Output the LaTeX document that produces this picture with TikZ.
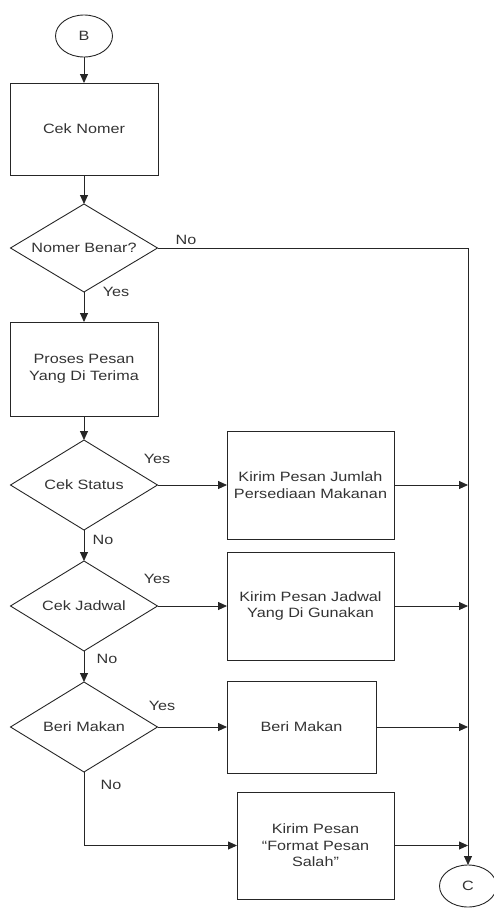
\documentclass[tikz,border=0pt]{standalone}
\usepackage{fontspec}
\setmainfont{Liberation Sans}[FakeStretch=1.2]
\usetikzlibrary{shapes.geometric,arrows.meta}
\begin{document}
\begin{tikzpicture}[x=1pt,y=-1pt,
  every node/.style={font=\fontsize{13.5pt}{16.5pt}\selectfont, text=black!80},
  shp/.style={draw=black!85, line width=0.9pt, inner sep=0pt, outer sep=0pt, align=center},
  box/.style={shp, rectangle},
  dec/.style={shp, diamond, aspect=1.7, minimum width=147pt, minimum height=90pt},
  conn/.style={shp, ellipse, minimum width=57pt, minimum height=42pt},
  line/.style={draw=black!85, line width=0.9pt},
  arr/.style={line, -{Triangle[length=9pt,width=8pt]}},
  lbl/.style={inner sep=0pt}
]
\useasboundingbox (0,0) rectangle (493,908);

% left column
\node[conn] (B) at (84,36) {B};
\node[box, minimum width=148pt, minimum height=92pt] (cn) at (84,129) {Cek Nomer};
\node[dec, minimum height=88pt] (nb) at (84,248) {Nomer Benar?};
\node[box, minimum width=148pt, minimum height=94pt] (pp) at (84,369) {Proses Pesan\\Yang Di Terima};
\node[dec] (cs) at (84,485) {Cek Status};
\node[dec] (cj) at (84,606) {Cek Jadwal};
\node[dec] (bd) at (84,727) {Beri Makan};

% right column
\node[box, minimum width=167pt, minimum height=108pt] (kj) at (310.5,485) {Kirim Pesan Jumlah\\Persediaan Makanan};
\node[box, minimum width=167pt, minimum height=108pt] (kd) at (310.5,606) {Kirim Pesan Jadwal\\Yang Di Gunakan};
\node[box, minimum width=149pt, minimum height=92pt] (bm) at (301.5,727) {Beri Makan};
\node[box, minimum width=157pt, minimum height=107pt] (fp) at (315.5,845.5) {Kirim Pesan\\“Format Pesan\\Salah”};
\node[conn] (C) at (468,886) {C};

% labels
\node[lbl] (l1) at (186,240) {No};
\node[lbl] (l2) at (116,292) {Yes};
\node[lbl] (l3) at (157,459) {Yes};
\node[lbl] (l4) at (103,540) {No};
\node[lbl] (l5) at (157,579) {Yes};
\node[lbl] (l6) at (107,659) {No};
\node[lbl] (l7) at (162,706) {Yes};
\node[lbl] (l8) at (111,785) {No};

% connectors
\draw[arr] (B) -- (cn);
\draw[arr] (cn) -- (nb);
\draw[arr] (nb) -- (pp);
\draw[arr] (nb.east) -| (C.north);
\draw[arr] (pp) -- (cs);
\draw[arr] (cs) -- (cj);
\draw[arr] (cj) -- (bd);
\draw[arr] (cs.east) -- (kj.west);
\draw[arr] (cj.east) -- (kd.west);
\draw[arr] (bd.east) -- (bm.west);
\draw[arr] (bd.south) |- (fp.west);
\draw[arr] (kj.east) -- (kj.east -| C.center);
\draw[arr] (kd.east) -- (kd.east -| C.center);
\draw[arr] (bm.east) -- (bm.east -| C.center);
\draw[arr] (fp.east) -- (fp.east -| C.center);
\end{tikzpicture}
\end{document}
